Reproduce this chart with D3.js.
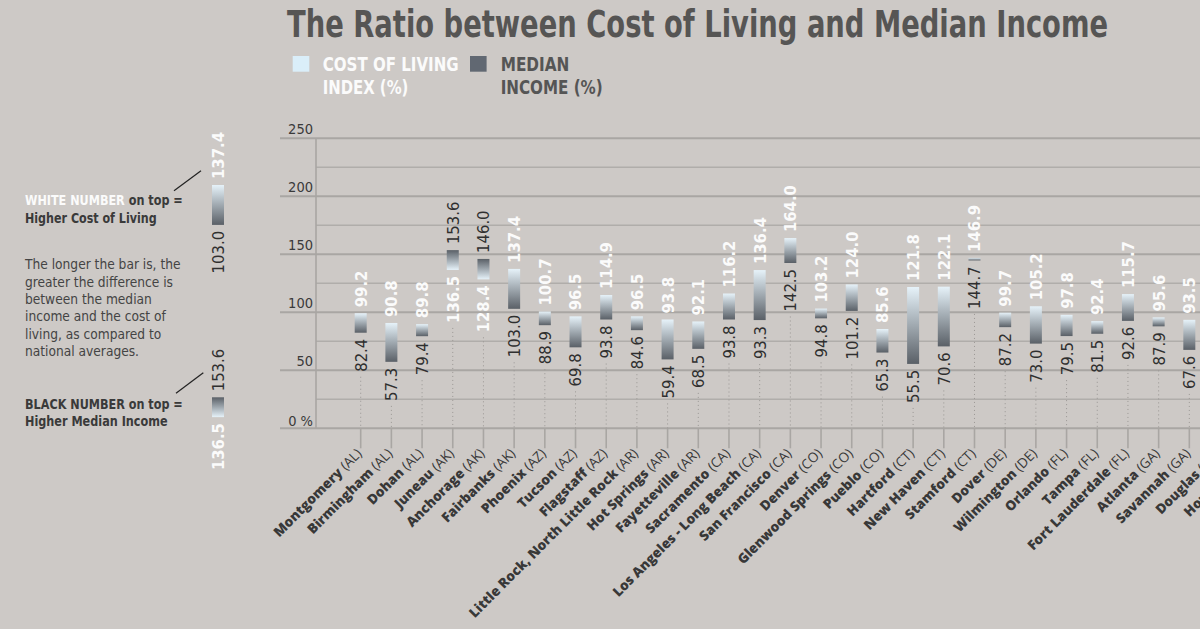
<!DOCTYPE html>
<html>
<head>
<meta charset="utf-8">
<script src="https://cdn.jsdelivr.net/npm/d3@7/dist/d3.min.js"></script>
<style>
  html, body { margin: 0; padding: 0; background: #cdc9c6; overflow: hidden; }
  svg { display: block; }
  .cond { font-family: "DejaVu Sans Condensed", "Liberation Sans Narrow", "Roboto", sans-serif; font-stretch: condensed; }
  .hum { font-family: "Open Sans", "Noto Sans", "DejaVu Sans", sans-serif; }
</style>
</head>
<body>
<svg id="chart" width="1200" height="629"></svg>
<script>
// ---------------- DATA ----------------
const cities = ["Montgomery", "Birmingham", "Dohan", "Juneau", "Anchorage", "Fairbanks", "Phoenix", "Tucson", "Flagstaff",
  "Little Rock, North Little Rock", "Hot Springs", "Fayetteville", "Sacramento", "Los Angeles - Long Beach", "San Francisco",
  "Denver", "Glenwood Springs", "Pueblo", "Hartford", "New Haven", "Stamford", "Dover", "Wilmington", "Orlando", "Tampa",
  "Fort Lauderdale", "Atlanta", "Savannah", "Douglas", "Honolulu"];
const states = ["AL", "AL", "AL", "AK", "AK", "AK", "AZ", "AZ", "AZ", "AR", "AR", "AR", "CA", "CA", "CA", "CO", "CO", "CO",
  "CT", "CT", "CT", "DE", "DE", "FL", "FL", "FL", "GA", "GA", "GA", "HI"];
const costOfLiving = [99.2, 90.8, 89.8, 136.5, 128.4, 137.4, 100.7, 96.5, 114.9, 96.5, 93.8, 92.1, 116.2, 136.4, 164.0,
  103.2, 124.0, 85.6, 121.8, 122.1, 146.9, 99.7, 105.2, 97.8, 92.4, 115.7, 95.6, 93.5, null, null];
const medianIncome = [82.4, 57.3, 79.4, 153.6, 146.0, 103.0, 88.9, 69.8, 93.8, 84.6, 59.4, 68.5, 93.8, 93.3, 142.5,
  94.8, 101.2, 65.3, 55.5, 70.6, 144.7, 87.2, 73.0, 79.5, 81.5, 92.6, 87.9, 67.6, null, null];
const yTicks = [50, 100, 150, 200, 250];
const yMinorTicks = [25, 75, 125, 175, 225];
const exampleCost = [137.4, 136.5];
const exampleIncome = [103.0, 153.6];
const titleText = "The Ratio between Cost of Living and Median Income";
const legendLabels = [["COST OF LIVING", "INDEX (%)"], ["MEDIAN", "INCOME (%)"]];
const noteParagraph = ["The longer the bar is, the", "greater the difference is", "between the median",
  "income and the cost of", "living, as compared to", "national averages."];

// ---------------- SETUP ----------------
const svg = d3.select("#chart");
const C = {
  light: "#e6f2f9", dark: "#5a6067", white: "#fbfbfb", black: "#2f2f2f",
  grid: "#a9a6a3", gridMinor: "#b0adaa", title: "#565554"
};
const defs = svg.append("defs");
function grad(id, topColor, bottomColor) {
  const g = defs.append("linearGradient").attr("id", id).attr("x1", 0).attr("y1", 0).attr("x2", 0).attr("y2", 1);
  g.append("stop").attr("offset", "0%").attr("stop-color", topColor);
  g.append("stop").attr("offset", "100%").attr("stop-color", bottomColor);
}
grad("costTop", C.light, C.dark);
grad("incomeTop", C.dark, C.light);

const data = cities.map((c, i) => ({ city: c, state: states[i], cost: costOfLiving[i], income: medianIncome[i] }));

const y = d3.scaleLinear().domain([0, 250]).range([428.3, 138.3]);
const step = 30.69;
const x = d3.scaleBand().domain(cities).range([345.35, 345.35 + step * cities.length]).padding(0);
const cx = d => x(d) + x.bandwidth() / 2;
const barW = 12;
const plotLeft = 316, plotRight = 1200;

// ---------------- GRID ----------------
svg.append("g").selectAll("line").data(yMinorTicks).join("line")
  .attr("x1", plotLeft).attr("x2", plotRight).attr("y1", d => y(d)).attr("y2", d => y(d))
  .attr("stroke", C.gridMinor).attr("stroke-width", 1.4);
svg.append("g").selectAll("line").data(yTicks).join("line")
  .attr("x1", 280).attr("x2", plotRight).attr("y1", d => y(d)).attr("y2", d => y(d))
  .attr("stroke", C.grid).attr("stroke-width", 2);
svg.append("line").attr("x1", 280).attr("x2", plotRight).attr("y1", y(0)).attr("y2", y(0))
  .attr("stroke", C.grid).attr("stroke-width", 2);
svg.append("line").attr("x1", plotLeft).attr("x2", plotLeft).attr("y1", y(250)).attr("y2", y(0))
  .attr("stroke", C.grid).attr("stroke-width", 1.6);

// y tick labels
svg.append("g").attr("class", "cond").selectAll("text").data(yTicks).join("text")
  .attr("x", 313).attr("y", d => y(d) - 4).attr("text-anchor", "end")
  .attr("font-size", 14.5).attr("fill", "#3a3a3a").text(d => d);
svg.append("text").attr("class", "cond").attr("x", 313).attr("y", y(0) - 2).attr("text-anchor", "end")
  .attr("font-size", 14.5).attr("fill", "#3a3a3a").text("0 %");

// category ticks
svg.append("g").selectAll("line").data(data).join("line")
  .attr("x1", d => cx(d.city)).attr("x2", d => cx(d.city)).attr("y1", y(0)).attr("y2", y(0) + 20)
  .attr("stroke", C.grid).attr("stroke-width", 1.6);

// category labels
const catG = svg.append("g").attr("class", "hum");
data.forEach(d => {
  const t = catG.append("text")
    .attr("transform", `translate(${cx(d.city) + 2},${y(0) + 26}) rotate(-45)`)
    .attr("text-anchor", "end").attr("font-size", 13.6).attr("fill", "#383838");
  t.append("tspan").attr("font-weight", 800).text(d.city + " ");
  t.append("tspan").attr("font-weight", 500).text("(" + d.state + ")");
});

// ---------------- BARS ----------------
const valid = data.filter(d => d.cost != null && d.income != null);
const gap = 6;
const barsG = svg.append("g");
const labelsG = svg.append("g").attr("class", "cond");
valid.forEach(d => {
  const hi = Math.max(d.cost, d.income), lo = Math.min(d.cost, d.income);
  const costTop = d.cost >= d.income;
  const xc = cx(d.city);
  barsG.append("rect").attr("x", xc - barW / 2).attr("width", barW)
    .attr("y", y(hi)).attr("height", Math.max(1.5, y(lo) - y(hi)))
    .attr("fill", `url(#${costTop ? "costTop" : "incomeTop"})`);
  labelsG.append("text")
    .attr("transform", `translate(${xc},${y(hi) - gap}) rotate(-90)`)
    .attr("text-anchor", "start").attr("dy", "0.36em").attr("font-size", 16.5)
    .attr("font-weight", costTop ? 700 : 400)
    .attr("fill", costTop ? C.white : C.black).text(hi.toFixed(1));
  const bt = labelsG.append("text")
    .attr("transform", `translate(${xc},${y(lo) + gap}) rotate(-90)`)
    .attr("text-anchor", "end").attr("dy", "0.36em").attr("font-size", 16.5)
    .attr("font-weight", costTop ? 400 : 700)
    .attr("fill", costTop ? C.black : C.white).text(lo.toFixed(1));
  const len = bt.node().getComputedTextLength();
  const y1 = y(lo) + gap + len + 5;
  if (y1 < y(0)) {
    barsG.append("line").attr("x1", xc).attr("x2", xc).attr("y1", y1).attr("y2", y(0))
      .attr("stroke", "#9a9794").attr("stroke-width", 1).attr("stroke-dasharray", "1,3");
  }
});

// ---------------- TITLE & LEGEND ----------------
svg.append("text").attr("class", "cond").attr("x", 287).attr("y", 36.7)
  .attr("font-size", 37).attr("font-weight", 700).attr("fill", C.title)
  .attr("textLength", 821).attr("lengthAdjust", "spacingAndGlyphs").text(titleText);

const legG = svg.append("g").attr("class", "cond");
legG.append("rect").attr("x", 292.7).attr("y", 56).attr("width", 16.6).attr("height", 15.7).attr("fill", "#daeef9");
legG.append("rect").attr("x", 470).attr("y", 56).attr("width", 16.6).attr("height", 15.7).attr("fill", "#616872");
const legX = [322.7, 500.7];
const legFill = ["#fbfbfb", "#555555"];
const legWidths = [[136, 85.7], [68.7, 102]];
legendLabels.forEach((lines, i) => {
  lines.forEach((ln, j) => {
    legG.append("text").attr("x", legX[i]).attr("y", 71 + j * 23.3)
      .attr("font-size", 20).attr("font-weight", 700).attr("fill", legFill[i])
      .attr("textLength", legWidths[i][j]).attr("lengthAdjust", "spacingAndGlyphs").text(ln);
  });
});

// ---------------- LEFT NOTES ----------------
const noteG = svg.append("g").attr("class", "cond");
// horizontally squeeze a text element to a target width (keeps glyph height)
function fitWidth(t, x0, y0, w) {
  const len = t.node().getComputedTextLength();
  const sx = Math.min(1, w / len);
  t.attr("transform", `translate(${x0},${y0}) scale(${sx},1)`);
}
function boldLine(yy, w, parts) {
  const t = noteG.append("text").attr("x", 0).attr("y", 0).attr("font-size", 14.5).attr("font-weight", 700)
    .attr("fill", "#3a3a3a");
  parts.forEach(p => t.append("tspan").attr("fill", p[1]).text(p[0]));
  fitWidth(t, 25, yy, w);
}
boldLine(205, 158, [["WHITE NUMBER", "#fbfbfb"], [" on top =", "#3a3a3a"]]);
boldLine(222.7, 131.7, [["Higher Cost of Living", "#3a3a3a"]]);
boldLine(409.3, 158, [["BLACK NUMBER", "#3a3a3a"], [" on top =", "#3a3a3a"]]);
boldLine(426, 142.7, [["Higher Median Income", "#3a3a3a"]]);
noteParagraph.forEach((ln, i) => {
  const t = noteG.append("text").attr("x", 0).attr("y", 0).attr("font-size", 14.2).attr("fill", "#444").text(ln);
  t.attr("transform", `translate(25,${269.3 + i * 17.35}) scale(0.96,1)`);
});

// leader lines
svg.append("line").attr("x1", 174).attr("y1", 190.7).attr("x2", 201).attr("y2", 170.7).attr("stroke", "#222").attr("stroke-width", 1.2);
svg.append("line").attr("x1", 176).attr("y1", 393.3).attr("x2", 203.3).attr("y2", 372.7).attr("stroke", "#222").attr("stroke-width", 1.2);

// example bars
const k = y(0) - y(1);
const exTop = [185, 397.3];
const exX = 218;
exampleCost.forEach((c, i) => {
  const inc = exampleIncome[i];
  const hi = Math.max(c, inc), lo = Math.min(c, inc);
  const costTop = c >= inc;
  const top = exTop[i], bottom = top + (hi - lo) * k;
  svg.append("rect").attr("x", exX - barW / 2).attr("width", barW).attr("y", top).attr("height", bottom - top)
    .attr("fill", `url(#${costTop ? "costTop" : "incomeTop"})`);
  noteG.append("text").attr("transform", `translate(${exX},${top - gap}) rotate(-90)`)
    .attr("text-anchor", "start").attr("dy", "0.36em").attr("font-size", 16.5)
    .attr("font-weight", costTop ? 700 : 400).attr("fill", costTop ? C.white : C.black).text(hi.toFixed(1));
  noteG.append("text").attr("transform", `translate(${exX},${bottom + gap}) rotate(-90)`)
    .attr("text-anchor", "end").attr("dy", "0.36em").attr("font-size", 16.5)
    .attr("font-weight", costTop ? 400 : 700).attr("fill", costTop ? C.black : C.white).text(lo.toFixed(1));
});
</script>
</body>
</html>
